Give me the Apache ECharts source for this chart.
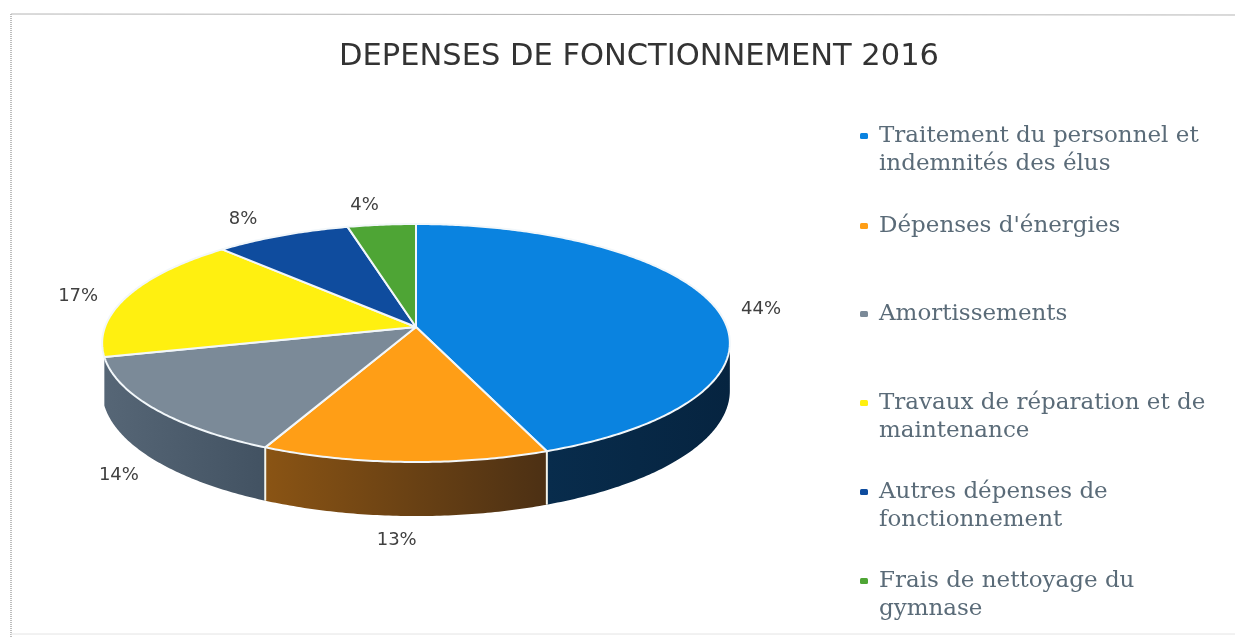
<!DOCTYPE html>
<html>
<head>
<meta charset="utf-8">
<style>
  html, body { margin: 0; padding: 0; background: #fff; }
  #chart { width: 1235px; height: 637px; }
</style>
</head>
<body>
<div id="chart"></div>
<script src="https://cdn.jsdelivr.net/npm/echarts@6/dist/echarts.min.js"></script>
<script>
const categories = [
  'Traitement du personnel et indemnités des élus',
  "Dépenses d'énergies",
  'Amortissements',
  'Travaux de réparation et de maintenance',
  'Autres dépenses de fonctionnement',
  'Frais de nettoyage du gymnase'
];
const values = [44, 13, 14, 17, 8, 4];
const legendLabels = [
  'Traitement du personnel et\nindemnités des élus',
  "Dépenses d'énergies",
  'Amortissements',
  'Travaux de réparation et de\nmaintenance',
  'Autres dépenses de\nfonctionnement',
  'Frais de nettoyage du\ngymnase'
];

const topColors = ['#0a83e0', '#ff9e16', '#7b8a98', '#fff010', '#0f4c9e', '#4ea535'];
// only the front slices show a wall
const wallColors = [
  ['#082c4c', '#062440'], ['#8a5414', '#4c3014'], ['#566676', '#425262'], null, null, null
];
// label offset from the rim point at the middle of each slice
const labelNudge = [[47, 4], [-8, 78], [-35, 67], [-50, 1], [-39, -16], [-17, -19]];
// y of the first text line of each legend entry
const legendRows = [136, 226, 314, 403, 492, 581];

// the pie is a circle seen at an angle, so the centre is not the middle of the ellipse
const cx = 416, cy = 327, ax = 311, by = 116.85, k = 0.1345, wallH = 46.8;

function project(theta) {
  const X = Math.sin(theta), Y = Math.cos(theta), w = 1 + k * Y;
  return [cx + ax * X / w, cy - by * Y / w];
}
function projectBottom(theta) {
  const p = project(theta), w = 1 + k * Math.cos(theta);
  return [p[0], p[1] + wallH / w];
}
function arcPoints(fn, t0, t1) {
  const n = Math.max(2, Math.ceil((t1 - t0) * 90));
  const pts = [];
  for (let i = 0; i <= n; i++) pts.push(fn(t0 + (t1 - t0) * i / n));
  return pts;
}

const total = values.reduce((a, b) => a + b, 0);
const frontStart = Math.acos(-k), frontEnd = 2 * Math.PI - frontStart;

function renderSlice(index) {
  return function (params, api) {
    const before = values.slice(0, index).reduce((a, b) => a + b, 0);
    const t0 = before / total * 2 * Math.PI;
    const t1 = t0 + api.value(0) / total * 2 * Math.PI;
    const children = [];

    const w0 = Math.max(t0, frontStart), w1 = Math.min(t1, frontEnd);
    if (wallColors[index] && w1 > w0) {
      const wall = arcPoints(project, w0, w1).concat(arcPoints(projectBottom, w0, w1).reverse());
      children.push({
        type: 'polygon',
        shape: { points: wall },
        style: {
          fill: new echarts.graphic.LinearGradient(0, 0, 1, 0, [
            { offset: 0, color: wallColors[index][0] },
            { offset: 1, color: wallColors[index][1] }
          ])
        }
      });
      // light seam between two wall pieces
      if (w0 === t0) {
        const a = project(t0), b = projectBottom(t0);
        children.push({
          type: 'line',
          shape: { x1: a[0], y1: a[1], x2: b[0], y2: b[1] },
          style: { stroke: '#f4f4ea', lineWidth: 2 }
        });
      }
    }

    children.push({
      type: 'polygon',
      shape: { points: [[cx, cy]].concat(arcPoints(project, t0, t1)) },
      style: { fill: topColors[index], stroke: '#f2f7fa', lineWidth: 2, lineJoin: 'round' }
    });

    const mid = project((t0 + t1) / 2);
    children.push({
      type: 'text',
      x: mid[0] + labelNudge[index][0],
      y: mid[1] + labelNudge[index][1],
      style: {
        text: api.value(0) + '%',
        font: '18px "DejaVu Sans"',
        fill: '#404040',
        align: 'center',
        verticalAlign: 'middle'
      }
    });
    return { type: 'group', children: children };
  };
}

const chart = echarts.init(document.getElementById('chart'));
chart.setOption({
  animation: false,
  backgroundColor: '#ffffff',
  title: {
    text: 'DEPENSES DE FONCTIONNEMENT 2016',
    left: 634,
    top: 37,
    textAlign: 'center',
    textStyle: { fontFamily: 'DejaVu Sans', fontSize: 30.5, fontWeight: 'normal', color: '#333333' }
  },
  legend: categories.map((name, i) => {
    const twoLines = legendLabels[i].indexOf('\n') >= 0;
    return {
      data: [name],
      left: 860,
      top: legendRows[i] - (twoLines ? 42 : 14),
      padding: 0,
      itemWidth: 8,
      itemHeight: 6,
      icon: 'roundRect',
      selectedMode: false,
      // blank first line keeps the marker level with the first text line
      formatter: () => (twoLines ? '\n' : '') + legendLabels[i],
      textStyle: {
        fontFamily: 'DejaVu Serif',
        fontSize: 23,
        lineHeight: 28,
        color: '#5a6b78',
        padding: [0, 0, 0, 6]
      }
    };
  }),
  graphic: [
    { type: 'line', shape: { x1: 11, y1: 14, x2: 1235, y2: 15 }, style: { stroke: '#b5b5b5', lineWidth: 1 } },
    { type: 'line', shape: { x1: 11, y1: 14, x2: 11, y2: 637 }, style: { stroke: '#bdbdbd', lineWidth: 2, lineDash: [1, 1] } },
    { type: 'line', shape: { x1: 11, y1: 634, x2: 1235, y2: 634 }, style: { stroke: '#e4e4e4', lineWidth: 1 } }
  ],
  series: categories.map((name, i) => ({
    type: 'custom',
    name: name,
    coordinateSystem: 'none',
    itemStyle: { color: topColors[i] },
    data: [values[i]],
    renderItem: renderSlice(i)
  }))
});
</script>
</body>
</html>
